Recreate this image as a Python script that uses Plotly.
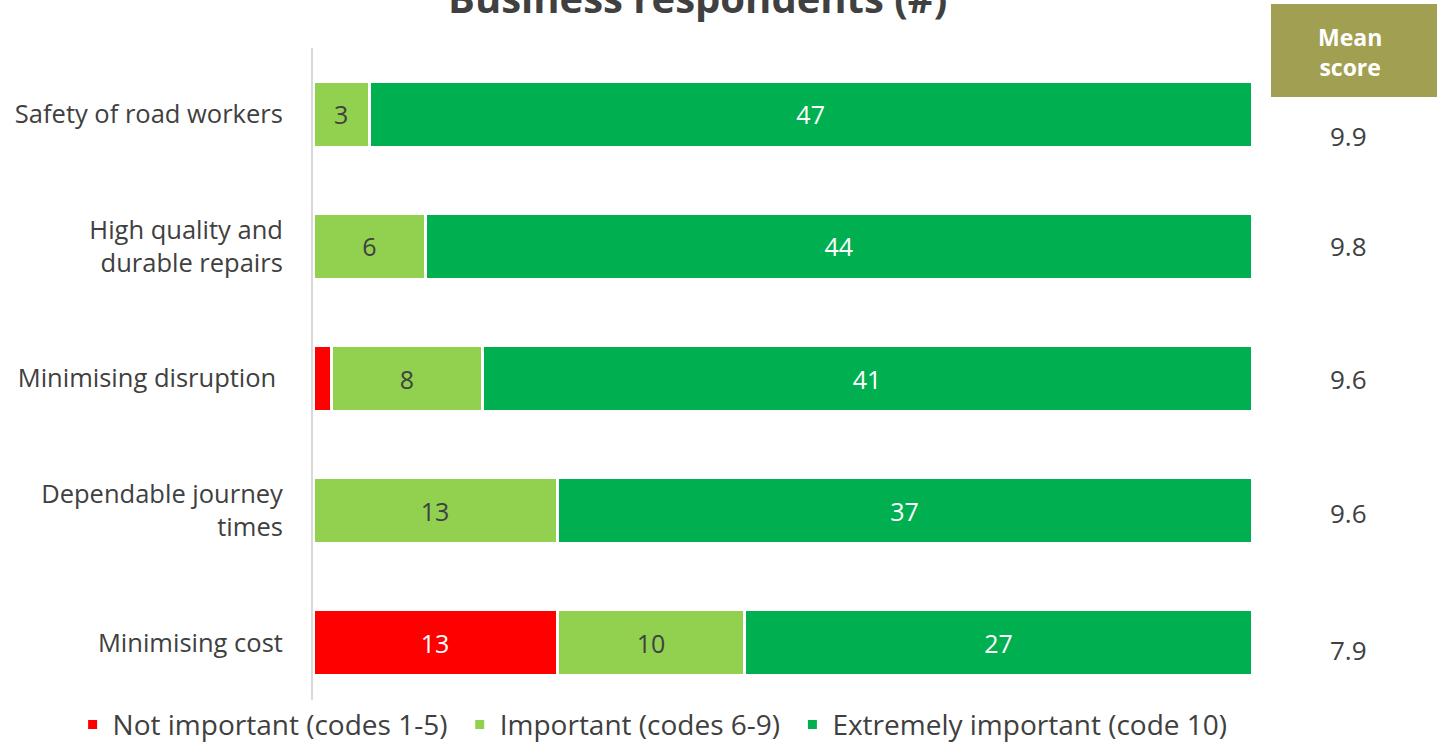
import plotly.graph_objects as go

categories = ["Safety of road workers", "High quality and<br>durable repairs", "Minimising disruption\u00a0",
              "Dependable journey<br>times", "Minimising cost"]
not_important = [0, 0, 1, 0, 13]
important = [3, 6, 8, 13, 10]
extremely_important = [47, 44, 41, 37, 27]
mean_scores = ["9.9", "9.8", "9.6", "9.6", "7.9"]

FONT = "Open Sans"
TXT = "#404040"
GAP = "\u00a0"

def labels(vals):
    return [str(v) if v >= 2 else "" for v in vals]

series = [
    ("Not important (codes 1-5)" + GAP, not_important, "#FF0000", "white"),
    ("Important (codes 6-9)" + GAP, important, "#92D050", TXT),
    ("Extremely important (code 10)", extremely_important, "#00B050", "white"),
]

fig = go.Figure()
for name, vals, color, tcol in series:
    fig.add_trace(go.Bar(
        y=categories, x=vals, name=name, orientation="h",
        marker=dict(color=color, line=dict(color="white", width=3)),
        text=labels(vals), textposition="inside", insidetextanchor="middle",
        textangle=0, constraintext="none",
        textfont=dict(family=FONT, size=25, color=tcol),
        hoverinfo="x+name",
    ))

fig.update_layout(
    width=1437, height=743,
    barmode="stack", bargap=0.5,
    margin=dict(l=313, r=185, t=48, b=34, autoexpand=False),
    plot_bgcolor="white", paper_bgcolor="white",
    font=dict(family=FONT, size=25.5, color=TXT),
    showlegend=True,
    legend=dict(orientation="h", x=-0.256, xanchor="left", y=-0.024, yanchor="middle",
                font=dict(family=FONT, size=28, color=TXT), itemwidth=30,
                traceorder="normal", itemclick=False),
    xaxis=dict(range=[0, 50], visible=False),
    yaxis=dict(autorange="reversed", showline=True, linecolor="#D9D9D9", linewidth=2,
               ticks="", ticklabelstandoff=23, tickfont=dict(family=FONT, size=25.5, color=TXT),
               showgrid=False),
)

# Title sits partly above the page edge
fig.add_annotation(text="<b>Business respondents (#)</b>", xref="paper", yref="paper",
                   x=(697 - 313) / 939, y=1 + 50 / 661, xanchor="center", yanchor="middle",
                   showarrow=False, font=dict(family=FONT, size=40, color=TXT))

# Mean score header box
fig.add_shape(type="rect", xref="paper", yref="paper",
              x0=(1271 - 313) / 939, x1=(1440 - 313) / 939,
              y0=1 - (97 - 48) / 661, y1=1 + (48 - 4) / 661,
              fillcolor="#A19F52", line=dict(width=0), layer="below")
fig.add_annotation(text="<b>Mean<br>score</b>", xref="paper", yref="paper",
                   x=(1350 - 313) / 939, y=1 - (52 - 48) / 661, xanchor="center", yanchor="middle",
                   showarrow=False, font=dict(family=FONT, size=23, color="white"))

offsets = [22, 0, 0, 2, 7]
for cat, ms, off in zip(categories, mean_scores, offsets):
    fig.add_annotation(text=ms, xref="paper", yref="y", x=(1348 - 313) / 939, y=cat,
                       yshift=-off, xanchor="center", yanchor="middle", showarrow=False,
                       font=dict(family=FONT, size=26, color=TXT))

fig.write_html("out.html")
